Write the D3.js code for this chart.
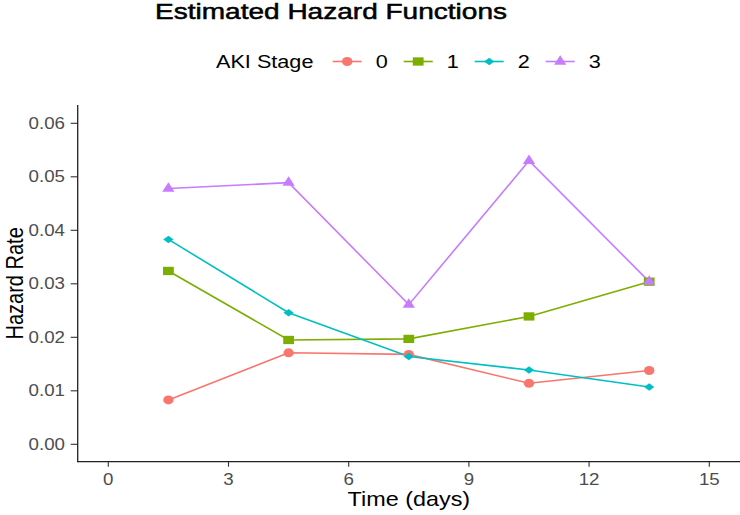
<!DOCTYPE html>
<html>
<head>
<meta charset="utf-8">
<script src="https://cdn.jsdelivr.net/npm/d3@7"></script>
<style>
  html, body { margin: 0; padding: 0; background: #ffffff; }
  svg { display: block; }
  text { font-family: "Liberation Sans", Arial, sans-serif; }
</style>
</head>
<body>
<div id="chart"></div>
<script>
// ---- data ----
const times = [1.5, 4.5, 7.5, 10.5, 13.5];
const stages = ["0", "1", "2", "3"];
const stage0 = [0.0083, 0.0171, 0.0168, 0.0114, 0.0138];
const stage1 = [0.0324, 0.0195, 0.0197, 0.0239, 0.0304];
const stage2 = [0.0383, 0.0246, 0.0164, 0.0139, 0.0107];
const stage3 = [0.0478, 0.0489, 0.0261, 0.0530, 0.0304];
const colors = ["#F8766D", "#7CAE00", "#00BFC4", "#C77CFF"];
const xTicks = [0, 3, 6, 9, 12, 15];
const yTicks = [0.00, 0.01, 0.02, 0.03, 0.04, 0.05, 0.06];
const titleText = "Estimated Hazard Functions";
const xTitle = "Time (days)";
const yTitle = "Hazard Rate";
const legendTitle = "AKI Stage";

const seriesValues = [stage0, stage1, stage2, stage3];
const series = stages.map((s, i) => ({
  stage: s, color: colors[i],
  points: times.map((t, j) => ({ t, v: seriesValues[i][j] }))
}));

const W = 740, H = 515;
const SX = 1.17; // horizontal stretch seen in the reference
const svg = d3.select("#chart").append("svg").attr("width", W).attr("height", H);

const panel = { left: 77.7, right: 740, top: 105, bottom: 461.7 };
const x = d3.scaleLinear().domain([0, 15]).range([108.3, 709.3]);
const y = d3.scaleLinear().domain([0, 0.06]).range([444.3, 123.3]);

function stext(g, str, tx, ty, size, anchor, fill, sx, extra) {
  const t = g.append("text")
    .attr("transform", `translate(${tx},${ty}) scale(${sx},1)` + (extra || ""))
    .attr("font-size", size)
    .attr("text-anchor", anchor)
    .attr("fill", fill)
    .text(str);
  return t;
}

// marker drawing
function marker(g, idx, cx, cy, color) {
  let path, tr;
  if (idx === 0) {
    path = d3.symbol(d3.symbolCircle, Math.PI * 4.5 * 4.5)();
    tr = `translate(${cx},${cy}) scale(1.15,1)`;
  } else if (idx === 1) {
    path = d3.symbol(d3.symbolSquare, 8.3 * 8.3)();
    tr = `translate(${cx},${cy}) scale(1.3,1)`;
  } else if (idx === 2) {
    path = d3.symbol(d3.symbolSquare, 28)();
    tr = `translate(${cx},${cy}) scale(1.37,1) rotate(45)`;
  } else {
    path = d3.symbol(d3.symbolTriangle, 52)();
    tr = `translate(${cx},${cy}) scale(1.12,1)`;
  }
  g.append("path").attr("d", path).attr("transform", tr).attr("fill", color);
}

// ---- axes ----
const axG = svg.append("g");
// y ticks
yTicks.forEach(v => {
  axG.append("line").attr("x1", panel.left - 7).attr("x2", panel.left)
    .attr("y1", y(v)).attr("y2", y(v)).attr("stroke", "#333").attr("stroke-width", 1.1);
  stext(axG, v.toFixed(2), 65, y(v) + 5.6, 16, "end", "#4D4D4D", SX);
});
// x ticks
xTicks.forEach(v => {
  axG.append("line").attr("x1", x(v)).attr("x2", x(v))
    .attr("y1", panel.bottom).attr("y2", panel.bottom + 5).attr("stroke", "#333").attr("stroke-width", 1.1);
  stext(axG, String(v), x(v), 485, 16, "middle", "#4D4D4D", SX);
});
// axis lines
axG.append("line").attr("x1", panel.left).attr("x2", panel.left)
  .attr("y1", panel.top).attr("y2", panel.bottom + 0.6).attr("stroke", "#222").attr("stroke-width", 1.3);
axG.append("line").attr("x1", panel.left).attr("x2", panel.right)
  .attr("y1", panel.bottom).attr("y2", panel.bottom).attr("stroke", "#222").attr("stroke-width", 1.3);

// axis titles
stext(svg, xTitle, (panel.left + panel.right) / 2, 506, 20, "middle", "#000", SX);
svg.append("text")
  .attr("transform", `translate(23.3,${(panel.top + panel.bottom) / 2}) scale(${SX},1) rotate(-90)`)
  .attr("font-size", 20).attr("text-anchor", "middle").attr("fill", "#000").text(yTitle);

// title
svg.append("text").attr("x", 155).attr("y", 19)
  .attr("font-size", 22).attr("fill", "#000")
  .attr("stroke", "#000").attr("stroke-width", 0.5)
  .attr("textLength", 352).attr("lengthAdjust", "spacingAndGlyphs")
  .text(titleText);

// ---- series ----
const line = d3.line().x(d => x(d.t)).y(d => y(d.v));
const sg = svg.append("g");
series.forEach(s => {
  sg.append("path").attr("d", line(s.points)).attr("fill", "none")
    .attr("stroke", s.color).attr("stroke-width", 1.6);
});
series.forEach((s, i) => {
  s.points.forEach(p => marker(sg, i, x(p.t), y(p.v), s.color));
});

// ---- legend ----
const lg = svg.append("g");
stext(lg, legendTitle, 216, 68, 18.5, "start", "#000", SX);
const keyX0 = 332.7, keyStep = 71, ly = 61.5;
series.forEach((s, i) => {
  const kx = keyX0 + i * keyStep;
  lg.append("line").attr("x1", kx).attr("x2", kx + 29).attr("y1", ly).attr("y2", ly)
    .attr("stroke", s.color).attr("stroke-width", 1.6);
  marker(lg, i, kx + 14.5, ly, s.color);
  stext(lg, s.stage, kx + 43, 68, 18.5, "start", "#000", SX);
});
</script>
</body>
</html>
